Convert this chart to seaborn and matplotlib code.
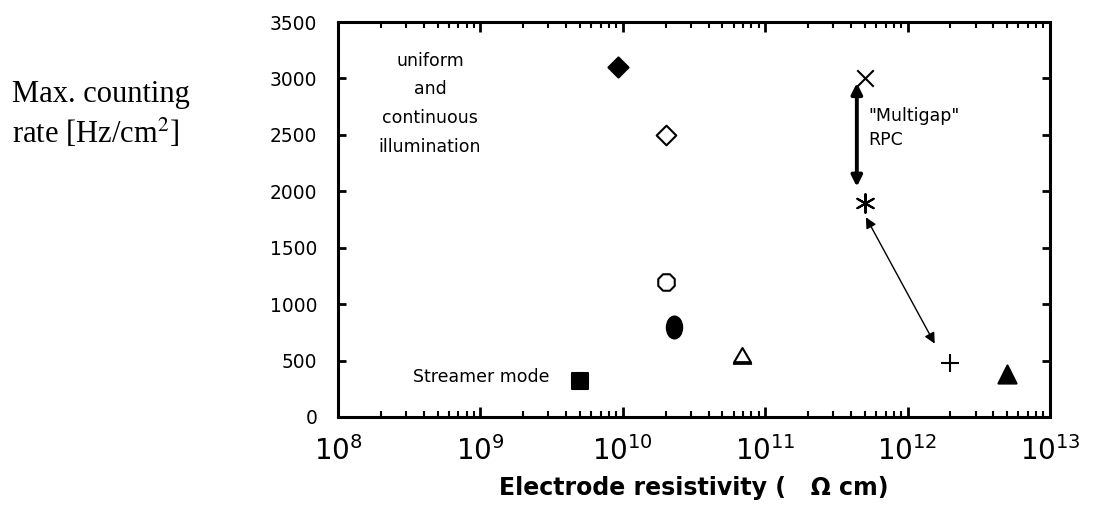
import numpy as np
import pandas as pd
import matplotlib
matplotlib.use("Agg")
import matplotlib.pyplot as plt
import seaborn as sns
from matplotlib.path import Path

# ---- data ----
resistivity = [9.2e9, 2.0e10, 2.0e10, 2.3e10, 6.9e10, 5.0e9, 5.0e11, 5.0e11, 2.0e12, 5.0e12]
rate        = [3100, 2500, 1200, 800, 550, 320, 3000, 1900, 480, 380]
series      = ["A", "B", "C", "D", "E", "F", "G", "H", "I", "J"]

x_ticks = [1e8, 1e9, 1e10, 1e11, 1e12, 1e13]
x_tick_labels = [r"$10^{8}$", r"$10^{9}$", r"$10^{10}$", r"$10^{11}$", r"$10^{12}$", r"$10^{13}$"]
y_ticks = [0, 500, 1000, 1500, 2000, 2500, 3000, 3500]

# arrows: (x_start, y_start, x_end, y_end)
arrow_thick = (4.4e11, 2040, 4.4e11, 2960)
arrow_thin = (5.1e11, 1770, 1.55e12, 650)

# ---- styles ----
tri_under = Path([(-1, -0.8), (0, 0.9), (1, -0.8), (-1, -0.8), (-1.15, -1.0), (1.15, -1.0)],
                 [Path.MOVETO, Path.LINETO, Path.LINETO, Path.CLOSEPOLY, Path.MOVETO, Path.LINETO])
_c = Path.unit_circle()
ellipse = Path(_c.vertices * np.array([0.7, 1.0]), _c.codes)

styles = {
    "A": dict(marker="D", s=105, facecolor="black", edgecolor="black"),
    "B": dict(marker="D", s=100, facecolor="white", edgecolor="black"),
    "C": dict(marker="8", s=165, facecolor="white", edgecolor="black"),
    "D": dict(marker=ellipse, s=250, facecolor="black", edgecolor="black"),
    "E": dict(marker=tri_under, s=190, facecolor="white", edgecolor="black"),
    "F": dict(marker="s", s=140, facecolor="black", edgecolor="black"),
    "G": dict(marker="x", s=140, color="black"),
    "H": dict(marker=(6, 2, 0), s=180, color="black"),
    "I": dict(marker="+", s=180, color="black"),
    "J": dict(marker="^", s=170, facecolor="black", edgecolor="black"),
}

sns.set_theme(style="white")
plt.rcParams["font.family"] = ["DejaVu Sans"]
plt.rcParams["text.color"] = "black"
plt.rcParams["axes.labelcolor"] = "black"
plt.rcParams["xtick.color"] = "black"
plt.rcParams["ytick.color"] = "black"

df = pd.DataFrame({"res": resistivity, "rate": rate, "series": series})

fig = plt.figure(figsize=(10.95, 5.12), dpi=100)
ax = fig.add_axes([338 / 1095, 1 - 417 / 512, (1050 - 338) / 1095, (417 - 22) / 512])

for name, sub in df.groupby("series", sort=False):
    st = styles[name]
    sns.scatterplot(data=sub, x="res", y="rate", ax=ax, legend=False,
                    linewidth=1.5, zorder=3, **st)

ax.set_xscale("log")
ax.set_xlim(1e8, 1e13)
ax.set_ylim(0, 3500)
ax.set_xticks(x_ticks)
ax.set_xticklabels(x_tick_labels, fontsize=20)
ax.set_yticks(y_ticks)
ax.set_yticklabels([str(v) for v in y_ticks], fontsize=13.4)
ax.xaxis.set_minor_locator(matplotlib.ticker.LogLocator(base=10, subs=np.arange(2, 10)))
ax.xaxis.set_minor_formatter(matplotlib.ticker.NullFormatter())

for sp in ax.spines.values():
    sp.set_visible(True)
    sp.set_color("black")
    sp.set_linewidth(2.2)

ax.tick_params(axis="x", which="major", direction="in", length=7, width=2,
               top=True, bottom=True, pad=14, colors="black")
ax.tick_params(axis="x", which="minor", direction="in", length=4, width=1.5,
               top=True, bottom=True, colors="black")
ax.tick_params(axis="y", which="major", direction="in", length=6, width=2,
               left=True, right=True, pad=15, colors="black")
ax.grid(False)

ax.set_xlabel("")
ax.set_ylabel("")
fig.text(694 / 1095, 1 - 488 / 512, "Electrode resistivity (   \u03a9 cm)",
         fontsize=17, fontweight="bold", ha="center", va="center", color="black")

fig.text(12 / 1095, 1 - 115 / 512, "Max. counting\nrate [Hz/cm$^2$]",
         family=["Liberation Serif", "DejaVu Serif"], fontsize=22, ha="left", va="center",
         linespacing=1.3, math_fontfamily="stix", color="black")

ax.text((430 - 338) / 712, (417 - 52) / 395, "uniform\nand\ncontinuous\nillumination",
        transform=ax.transAxes, ha="center", va="top", fontsize=12.5, linespacing=1.75,
        color="black")
ax.text((413 - 338) / 712, (417 - 377) / 395, "Streamer mode", transform=ax.transAxes,
        ha="left", va="center", fontsize=12.5, color="black")
ax.text((868 - 338) / 712, (417 - 107) / 395, "\"Multigap\"\nRPC", transform=ax.transAxes,
        ha="left", va="top", fontsize=12.5, linespacing=1.4, color="black")

ax.annotate("", xy=(arrow_thick[2], arrow_thick[3]), xytext=(arrow_thick[0], arrow_thick[1]),
            arrowprops=dict(arrowstyle="<|-|>", lw=2.8, color="black",
                            mutation_scale=16, shrinkA=0, shrinkB=0))
ax.annotate("", xy=(arrow_thin[2], arrow_thin[3]), xytext=(arrow_thin[0], arrow_thin[1]),
            arrowprops=dict(arrowstyle="<|-|>", lw=1, color="black",
                            mutation_scale=16, shrinkA=0, shrinkB=0))

fig.savefig("out.png", dpi=100, facecolor="white")
